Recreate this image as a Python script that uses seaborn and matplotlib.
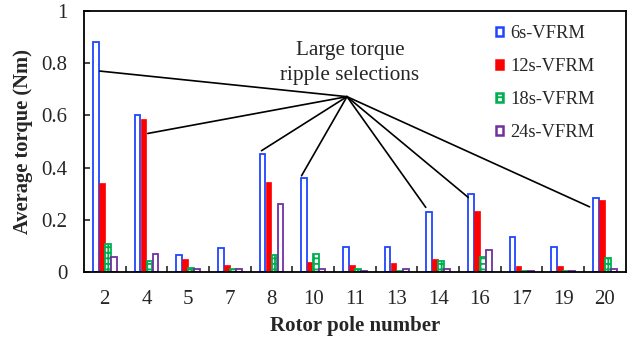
import matplotlib
matplotlib.use("Agg")
import matplotlib.pyplot as plt
from matplotlib.patches import Patch
import seaborn as sns
import pandas as pd

poles = ["2", "4", "5", "7", "8", "10", "11", "13", "14", "16", "17", "19", "20"]
series = ["6s-VFRM", "12s-VFRM", "18s-VFRM", "24s-VFRM"]
v6 = [0.88, 0.600, 0.064, 0.091, 0.452, 0.361, 0.095, 0.095, 0.229, 0.298, 0.133, 0.096, 0.282]
v12 = [0.341, 0.587, 0.049, 0.027, 0.347, 0.038, 0.027, 0.033, 0.049, 0.235, 0.022, 0.022, 0.277]
v18 = [0.106, 0.042, 0.017, 0.012, 0.064, 0.069, 0.010, 0.004, 0.042, 0.059, 0.005, 0.005, 0.054]
v24 = [0.059, 0.069, 0.012, 0.012, 0.260, 0.010, 0.005, 0.010, 0.010, 0.085, 0.005, 0.005, 0.012]
yticks = [0, 0.2, 0.4, 0.6, 0.8, 1]
ytick_labels = ["0", "0.2", "0.4", "0.6", "0.8", "1"]

rows = []
for name, vals in zip(series, [v6, v12, v18, v24]):
    for p, v in zip(poles, vals):
        rows.append({"pole": p, "series": name, "torque": v})
df = pd.DataFrame(rows)

sns.set_style("white")
plt.rcParams["font.family"] = ["Liberation Serif", "DejaVu Serif"]
plt.rcParams["hatch.linewidth"] = 1.3

fig = plt.figure(figsize=(6.36, 3.44), dpi=100)
ax = fig.add_axes([0.132, 0.209, 0.852, 0.759])

sns.barplot(data=df, x="pole", y="torque", hue="series", order=poles,
            hue_order=series, width=0.58, gap=0.05, ax=ax, legend=False,
            errorbar=None)

blue, red, green, purple = "#1F45FF", "#FF0000", "#00B050", "#7030A0"
styles = [
    dict(facecolor="white", edgecolor=blue, linewidth=1.3, hatch=None),
    dict(facecolor=red, edgecolor=red, linewidth=0.5, hatch=None),
    dict(facecolor="white", edgecolor=green, linewidth=1.3, hatch="+++"),
    dict(facecolor="white", edgecolor=purple, linewidth=1.3, hatch=None),
]
for cont, st in zip(ax.containers, styles):
    for bar in cont:
        bar.set_facecolor(st["facecolor"])
        bar.set_edgecolor(st["edgecolor"])
        bar.set_linewidth(st["linewidth"])
        if st["hatch"]:
            bar.set_hatch(st["hatch"])

ax.set_ylim(0, 1)
ax.set_xlim(-0.5, len(poles) - 0.5)
ax.set_yticks(yticks)
ax.set_yticklabels(ytick_labels)
ax.set_xticks(range(len(poles)))
ax.set_xticklabels(poles)
ax.set_xticks([i + 0.5 for i in range(len(poles) - 1)], minor=True)
ax.tick_params(axis="x", which="major", length=0, pad=13, labelsize=15)
ax.tick_params(axis="x", which="minor", direction="in", length=4, width=1.2, bottom=True)
ax.tick_params(axis="y", direction="in", length=4, width=1.2, left=True, pad=12, labelsize=15)
for sp in ax.spines.values():
    sp.set_visible(True)
    sp.set_color("black")
    sp.set_linewidth(1.3)

ax.set_xlabel("Rotor pole number", fontsize=15, fontweight="bold")
ax.set_ylabel("Average torque (Nm)", fontsize=14.8, fontweight="bold")
ax.xaxis.set_label_coords(0.5, -0.17)
ax.yaxis.set_label_coords(-0.094, 0.5)

# annotation
hub = (5.81, 0.672)
ends = [(-0.12, 0.770), (1.03, 0.531), (3.76, 0.465), (4.72, 0.369),
        (7.70, 0.248), (8.72, 0.286), (11.63, 0.250)]
for e in ends:
    ax.annotate("", xy=e, xytext=hub,
                arrowprops=dict(arrowstyle="-", lw=1.2, color="black",
                                shrinkA=0, shrinkB=0))
ax.text(5.88, 0.80, "Large torque\nripple selections", ha="center", va="center",
        fontsize=15.3, linespacing=1.45)

handles = [Patch(facecolor=st["facecolor"], edgecolor=st["edgecolor"],
                 linewidth=1.8, hatch=st["hatch"]) for st in styles]
ax.legend(handles, series, loc="upper left", frameon=False, fontsize=13.3,
          handlelength=0.38, handleheight=0.38, handletextpad=0.4,
          labelspacing=0.87, borderpad=0.4, bbox_to_anchor=(0.730, 1.011))

fig.savefig("out.png", dpi=100)
